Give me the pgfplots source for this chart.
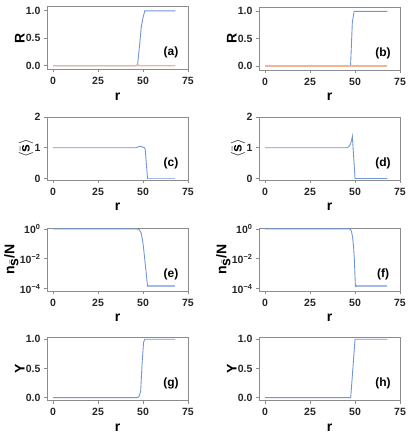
\documentclass[border=0pt]{standalone}
\usepackage{pgfplots}
\pgfplotsset{compat=1.18}
\usepackage{fontspec}
\setmainfont{Liberation Sans}

\definecolor{lineblue}{HTML}{7096D8}
\definecolor{tailblue}{HTML}{A3BBE6}
\definecolor{salmon}{HTML}{F2B494}
\definecolor{framegray}{HTML}{8C8C8C}

\pgfplotsset{
  panel/.style={
    scale only axis,
    width=141pt, height=63pt,
    anchor=north west,
    xmin=-3.4, xmax=75,
    xtick={0,25,50,75},
    axis line style={framegray, line width=0.8pt},
    tick style={framegray, line width=0.8pt},
    tick align=outside,
    major tick length=3pt,
    xtick pos=bottom, ytick pos=left,
    /pgf/number format/assume math mode=true,
    tick label style={font=\fontsize{10.5}{12}\selectfont\bfseries, text=black!85},
    xticklabel style={yshift=-1.5pt},
    label style={font=\fontsize{14}{16}\selectfont\bfseries},
    xlabel={r},
    xlabel style={yshift=-1pt},
    ylabel style={yshift=-5.5pt},
    every axis plot/.append style={line width=0.9pt},
  },
  unitR/.style={
    ymin=-0.07, ymax=1.08,
    ytick={0,0.5,1},
    yticklabels={0.0,0.5,1.0},
  },
  unitY/.style={
    ymin=-0.05, ymax=1.03,
    ytick={0,0.5,1},
    yticklabels={0.0,0.5,1.0},
  },
  unitS/.style={
    ymin=-0.05, ymax=2,
    ytick={0,1,2},
  },
  unitN/.style={
    ymin=7e-5, ymax=1.15,
    ytick={1e-4,1e-2,1},
    yticklabels={10\textsuperscript{−4},10\textsuperscript{−2},10\textsuperscript{0}},
  },
}

\newcommand{\paneltag}[1]{\node[font=\fontsize{12}{14}\selectfont\bfseries] at (rel axis cs:0.88,0.27) {#1};}

\begin{document}
\begin{tikzpicture}
\useasboundingbox (0,0) rectangle (416pt,-433pt);

% (a)
\begin{axis}[panel, unitR, at={(47pt,-6.5pt)}, ylabel={R}]
\addplot[lineblue] coordinates {(0,0) (46.5,0) (47,0.02) (48,0.35) (49,0.7) (50,0.88) (51,1.0) (68,1.0)};
\addplot[salmon, line width=1.3pt] coordinates {(0,0) (46,0) (47,0.02) (48,0) (68,0)};
\paneltag{(a)}
\end{axis}

% (b)
\begin{axis}[panel, unitR, at={(259pt,-7pt)}, ylabel={R}]
\addplot[lineblue] coordinates {(0,0) (47.5,0) (48.5,0.8) (49.5,1.0) (68,1.0)};
\addplot[salmon, line width=1.8pt] coordinates {(0,0) (68,0)};
\paneltag{(b)}
\end{axis}

% (c)
\begin{axis}[panel, unitS, at={(47pt,-117pt)}, ylabel={$\langle\bar{\textbf{s}}\rangle$}]
\addplot[tailblue, line width=1.6pt] coordinates {(52.5,0) (68,0)};
\addplot[lineblue] coordinates {(0,1) (46,1) (47.5,1.03) (48.5,1.045) (49.5,1.03) (50.7,1.0) (51.2,0.95) (52.5,0) (53,0)};
\paneltag{(c)}
\end{axis}

% (d)
\begin{axis}[panel, unitS, at={(259pt,-117pt)}, ylabel={$\langle\bar{\textbf{s}}\rangle$}]
\addplot[lineblue] coordinates {(0,1) (45.2,1) (46.5,1.03) (47.3,1.1) (48,1.22) (48.5,1.37) (50,0) (68,0)};
\paneltag{(d)}
\end{axis}

% (e)
\begin{semilogyaxis}[panel, unitN, at={(47pt,-228pt)}, ylabel={\textbf{n}$_{\bar{\textbf{s}}}$\textbf{/N}}]
\addplot[tailblue, line width=1.4pt] coordinates {(52.5,1.5e-4) (68,1.5e-4)};
\addplot[lineblue] coordinates {(0,1) (46,1) (47,0.97) (47.9,0.88) (48.9,0.55) (49.7,0.19) (50.4,0.04) (51,8e-3) (51.8,1e-3) (52.5,1.5e-4) (53,1.5e-4)};
\paneltag{(e)}
\end{semilogyaxis}

% (f)
\begin{semilogyaxis}[panel, unitN, at={(259pt,-228pt)}, ylabel={\textbf{n}$_{\bar{\textbf{s}}}$\textbf{/N}}]
\addplot[tailblue, line width=1.4pt] coordinates {(50.2,1.5e-4) (68,1.5e-4)};
\addplot[lineblue] coordinates {(0,1) (46.5,1) (47.3,0.95) (48,0.7) (48.6,0.3) (49.2,0.06) (49.6,0.01) (50.2,1.5e-4) (51,1.5e-4)};
\paneltag{(f)}
\end{semilogyaxis}

% (g)
\begin{axis}[panel, unitY, at={(47pt,-337.5pt)}, ylabel={Y}]
\addplot[lineblue] coordinates {(0,0) (47,0) (48,0.03) (48.7,0.12) (49.5,0.6) (50.3,0.95) (51,1.0) (68,1.0)};
\paneltag{(g)}
\end{axis}

% (h)
\begin{axis}[panel, unitY, at={(259pt,-337.5pt)}, ylabel={Y}]
\addplot[lineblue] coordinates {(0,0) (47.6,0) (50,1.0) (68,1.0)};
\paneltag{(h)}
\end{axis}

\end{tikzpicture}
\end{document}
